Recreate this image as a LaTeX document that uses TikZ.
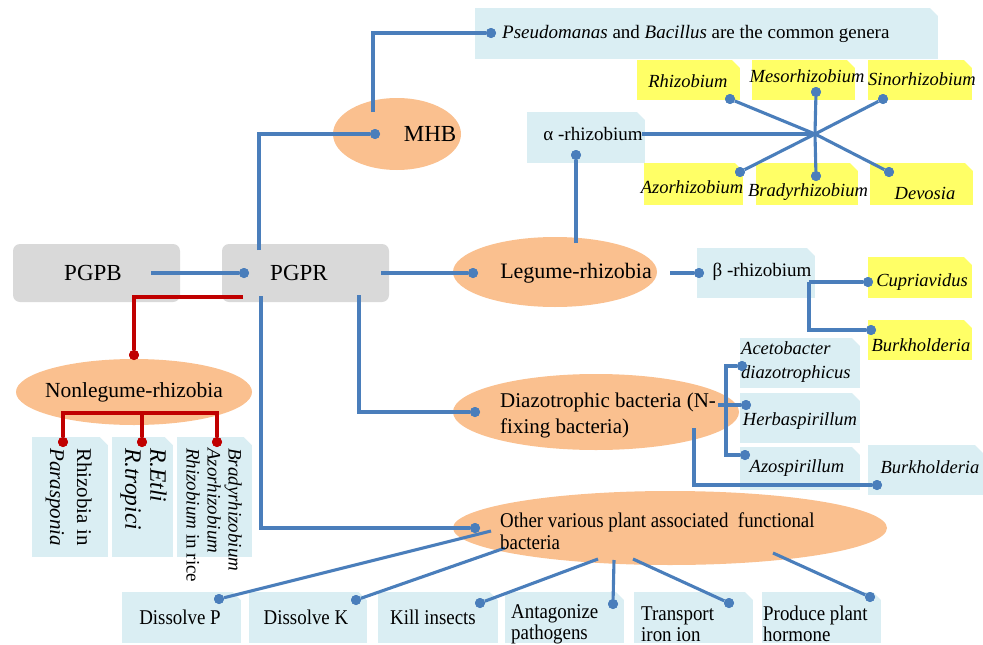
\documentclass[tikz,border=0pt]{standalone}
\usepackage{fontspec}
\setmainfont{Liberation Serif}
\newfontfamily\narrowfont[FakeStretch=0.9]{Liberation Serif}
\usetikzlibrary{shapes.geometric}

\definecolor{boxblue}{HTML}{DAEEF3}
\definecolor{boxgray}{HTML}{D9D9D9}
\definecolor{boxyellow}{HTML}{FFFF66}
\definecolor{ovalorange}{HTML}{FAC08F}
\definecolor{lineblue}{HTML}{4A7EBB}
\definecolor{linered}{HTML}{C00000}

\tikzset{
	lbox/.style={rectangle, fill=boxblue, inner sep=0pt, outer sep=0pt},
	ybox/.style={lbox, fill=boxyellow},
	gbox/.style={rectangle, rounded corners=7pt, fill=boxgray, inner sep=0pt},
	oval/.style={ellipse, fill=ovalorange, inner sep=0pt},
	dot/.style={circle, fill=lineblue, inner sep=0pt, minimum size=10pt},
	rdot/.style={dot, fill=linered},
	link/.style={lineblue, line width=3.1pt},
	rlink/.style={linered, line width=3.1pt},
	txt/.style={inner sep=0pt},
	tbig/.style={txt, font=\fontsize{23}{27}\selectfont},
	toval/.style={txt, font=\fontsize{22}{26}\selectfont},
	tmid/.style={txt, font=\fontsize{19}{23}\selectfont},
	tit/.style={txt, font=\fontsize{18.5}{24}\selectfont\itshape, align=left},
	tnarrow/.style={txt, font=\narrowfont\fontsize{21}{21}\selectfont, align=left}
}

\begin{document}
\begin{tikzpicture}[x=1pt, y=-1pt]
	\useasboundingbox (0,0) rectangle (983,645);

% draw ovals and boxes
	\node[gbox, minimum width=167, minimum height=58] (pgpb) at (96.5,273) {};
	\node[gbox, minimum width=167, minimum height=58] (pgpr) at (305.5,273) {};

	\node[oval, minimum width=128, minimum height=72] (mhb) at (397,134) {};
	\node[oval, minimum width=204, minimum height=70] (legume) at (555,272) {};
	\node[oval, minimum width=236, minimum height=66] (nonleg) at (134,392) {};
	\node[oval, minimum width=286, minimum height=76] (diazo) at (596,412) {};
	\node[oval, minimum width=434, minimum height=74] (other) at (670,528) {};

	\node[lbox, minimum width=463, minimum height=51] (pseudo) at (706.5,33.5) {};
	\node[lbox, minimum width=118, minimum height=51] (alpha) at (586,137.5) {};
	\node[lbox, minimum width=118, minimum height=50] (beta) at (756,273) {};

	\node[ybox, minimum width=103, minimum height=40] (rhiz) at (688.5,80) {};
	\node[ybox, minimum width=103, minimum height=40] (meso) at (803.5,80) {};
	\node[ybox, minimum width=104, minimum height=40] (sino) at (920,80) {};
	\node[ybox, minimum width=99, minimum height=42] (azo) at (693.5,184) {};
	\node[ybox, minimum width=102, minimum height=42] (brady) at (807,184) {};
	\node[ybox, minimum width=103, minimum height=42] (devosia) at (921.5,184) {};
	\node[ybox, minimum width=104, minimum height=41] (cupri) at (920,277.5) {};
	\node[ybox, minimum width=104, minimum height=40] (burky) at (920,340) {};

	\node[lbox, minimum width=120, minimum height=50] (aceto) at (800,363) {};
	\node[lbox, minimum width=120, minimum height=50] (herba) at (800,418) {};
	\node[lbox, minimum width=120, minimum height=43] (azosp) at (800,468.5) {};
	\node[lbox, minimum width=115, minimum height=50] (burkb) at (925.5,470) {};

	\node[lbox, minimum width=76, minimum height=120] (nl1) at (70,497) {};
	\node[lbox, minimum width=61, minimum height=120] (nl2) at (142.5,497) {};
	\node[lbox, minimum width=75, minimum height=120] (nl3) at (214.5,497) {};

	\node[lbox, minimum width=119, minimum height=51] (dissp) at (181.5,617.5) {};
	\node[lbox, minimum width=118, minimum height=51] (dissk) at (308,617.5) {};
	\node[lbox, minimum width=120, minimum height=51] (kill) at (438,617.5) {};
	\node[lbox, minimum width=119, minimum height=51] (antag) at (564.5,617.5) {};
	\node[lbox, minimum width=119, minimum height=51] (transp) at (693.5,617.5) {};
	\node[lbox, minimum width=119, minimum height=51] (produce) at (821.5,617.5) {};

	% snip the top right corners
	\foreach \b in {pseudo,alpha,beta,rhiz,meso,sino,azo,brady,devosia,cupri,burky,aceto,herba,azosp,burkb,nl1,nl2,nl3,dissp,dissk,kill,antag,transp,produce}
		\fill[white] ([xshift=-8pt]\b.north east) -- ([xshift=0.5pt,yshift=0.5pt]\b.north east) -- ([yshift=-8pt]\b.north east) -- cycle;

% dots
	\node[dot] (pgpr-dot) at (244,273) {};
	\node[dot] (mhb-dot) at (375,134) {};
	\node[dot] (pseudo-dot) at (491,33) {};
	\node[dot] (legume-dot) at (473,273) {};
	\node[dot] (alpha-dot) at (576,155) {};
	\node[dot] (beta-dot) at (699,273) {};
	\node[dot] (rhiz-dot) at (730,99) {};
	\node[dot] (meso-dot) at (816,92) {};
	\node[dot] (sino-dot) at (883,99) {};
	\node[dot] (azo-dot) at (740,172) {};
	\node[dot] (brady-dot) at (816,176) {};
	\node[dot] (devosia-dot) at (889,172) {};
	\node[dot] (cupri-dot) at (868,282) {};
	\node[dot] (burky-dot) at (871,330) {};
	\node[dot] (diazo-dot) at (475,412) {};
	\node[dot] (aceto-dot) at (742,366) {};
	\node[dot] (herba-dot) at (746,405) {};
	\node[dot] (azosp-dot) at (745,455) {};
	\node[dot] (burkb-dot) at (877,485) {};
	\node[dot] (other-dot) at (475,528) {};
	\node[dot] (dissp-dot) at (219,599) {};
	\node[dot] (dissk-dot) at (356,600) {};
	\node[dot] (kill-dot) at (480,603) {};
	\node[dot] (antag-dot) at (613,604) {};
	\node[dot] (transp-dot) at (729,603) {};
	\node[dot] (produce-dot) at (870,597) {};
	\node[rdot] (nonleg-dot) at (134,355) {};
	\node[rdot] (nl1-dot) at (63,442) {};
	\node[rdot] (nl2-dot) at (142,442) {};
	\node[rdot] (nl3-dot) at (217,442) {};

% free ends of the connectors
	\coordinate (pgpb-end) at (151,273);
	\coordinate (pgpr-top) at (259,250);
	\coordinate (pgpr-right) at (381,273);
	\coordinate (pgpr-bl) at (261,296);
	\coordinate (pgpr-br) at (359,295);
	\coordinate (pgpr-red) at (243,297);
	\coordinate (mhb-top) at (373,112);
	\coordinate (legume-top) at (576,243);
	\coordinate (legume-right) at (670,273);
	\coordinate (alpha-end) at (642,134);
	\coordinate (star) at (815,134);
	\coordinate (beta-end) at (809,282);
	\coordinate (nl-bar) at (142,413);
	\coordinate (br-bot) at (726,455);
	\coordinate (br-mid) at (718,405);
	\coordinate (diazo-low) at (694,428);
	\coordinate (o-dissp) at (491,531);
	\coordinate (o-dissk) at (505,548);
	\coordinate (o-kill) at (598,559);
	\coordinate (o-antag) at (614,560);
	\coordinate (o-transp) at (633,559);
	\coordinate (o-produce) at (773,553);

% connectors
	\draw[link] (pgpb-end) -- (pgpr-dot);
	\draw[link] (pgpr-top) |- (mhb-dot);
	\draw[link] (mhb-top) |- (pseudo-dot);
	\draw[link] (pgpr-right) -- (legume-dot);
	\draw[link] (pgpr-br) |- (diazo-dot);
	\draw[link] (pgpr-bl) |- (other-dot);
	\draw[rlink] (pgpr-red) -| (nonleg-dot);
	\draw[rlink] (nl1-dot) |- (nl-bar) -| (nl3-dot);
	\draw[rlink] (nl-bar) -- (nl2-dot);

	\draw[link] (legume-top) -- (alpha-dot);
	\draw[link] (alpha-end) -- (star);
	\foreach \n in {rhiz,meso,sino,azo,brady,devosia}
		\draw[link] (star) -- (\n-dot);
	\draw[link] (legume-right) -- (beta-dot);
	\draw[link] (beta-end) -- (cupri-dot);
	\draw[link] (beta-end) |- (burky-dot);

	\draw[link] (aceto-dot) -| (br-bot) -- (azosp-dot);
	\draw[link] (br-mid) -- (herba-dot);
	\draw[link] (diazo-low) |- (burkb-dot);

	\foreach \n in {dissp,dissk,kill,antag,transp,produce}
		\draw[link] (o-\n) -- (\n-dot);

	% redraw dots on top
	\foreach \n in {pgpr,mhb,pseudo,legume,alpha,beta,rhiz,meso,sino,azo,brady,devosia,cupri,burky,diazo,aceto,herba,azosp,burkb,other,dissp,dissk,kill,antag,transp,produce}
		\fill[lineblue] (\n-dot) circle (5pt);
	\foreach \n in {nonleg,nl1,nl2,nl3}
		\fill[linered] (\n-dot) circle (5pt);

% texts
	\node[tbig] (pgpb-t) at (93,273) {PGPB};
	\node[tbig] (pgpr-t) at (299,273) {PGPR};
	\node[tbig] (mhb-t) at (430,134) {MHB};
	\node[toval] (legume-t) at (576,273) {Legume-rhizobia};
	\node[txt, font=\fontsize{21.5}{26}\selectfont] (nonleg-t) at (134,392) {Nonlegume-rhizobia};
	\node[txt, font=\fontsize{21}{26}\selectfont, align=left, anchor=west] (diazo-t) at (500,415)
		{Diazotrophic bacteria (N-\\fixing bacteria)};
	\node[tnarrow, anchor=west] (other-t) at (500,531)
		{Other various plant associated\ \ functional\\[1pt]bacteria};

	\node[tmid, anchor=west] (pseudo-t) at (502,34)
		{\textit{Pseudomanas} and \textit{Bacillus} are the common genera};
	\node[tmid] (alpha-t) at (593,134) {α -rhizobium};
	\node[tmid] (beta-t) at (762,272) {β -rhizobium};

	\node[tit] (rhiz-t) at (688,81) {Rhizobium};
	\node[tit] (meso-t) at (807,76) {Mesorhizobium};
	\node[tit] (sino-t) at (922,79) {Sinorhizobium};
	\node[tit] (azo-t) at (692,187) {Azorhizobium};
	\node[tit] (brady-t) at (808,192) {Bradyrhizobium};
	\node[tit] (devosia-t) at (925,193) {Devosia};
	\node[tit] (cupri-t) at (922,282) {Cupriavidus};
	\node[tit] (burky-t) at (921,345) {Burkholderia};

	\node[tit, anchor=west] (aceto-t) at (741,362) {Acetobacter\\diazotrophicus};
	\node[tit] (herba-t) at (800,421) {Herbaspirillum};
	\node[tit] (azosp-t) at (797,468) {Azospirillum};
	\node[tit] (burkb-t) at (930,467) {Burkholderia};

	\node[txt, rotate=-90, anchor=north west, align=left, font=\fontsize{21}{27}\selectfont]
		(nl1-t) at (92,448) {Rhizobia in\\\textit{Parasponia}};
	\node[txt, rotate=-90, anchor=north west, align=left, font=\fontsize{23.5}{25}\selectfont\itshape]
		(nl2-t) at (167,448) {R.Etli\\R.tropici};
	\node[txt, rotate=-90, anchor=north west, align=left, font=\fontsize{19}{21}\selectfont]
		(nl3-t) at (242,448) {\textit{Bradyrhizobium}\\\textit{Azorhizobium}\\\textit{Rhizobium} in rice};

	\node[tnarrow] (dissp-t) at (180,617) {Dissolve P};
	\node[tnarrow] (dissk-t) at (306,617) {Dissolve K};
	\node[tnarrow] (kill-t) at (433,617) {Kill insects};
	\node[tnarrow, anchor=west] (antag-t) at (511,624) {Antagonize\\pathogens};
	\node[tnarrow, anchor=west] (transp-t) at (641,624) {Transport\\iron ion};
	\node[tnarrow, anchor=west] (produce-t) at (763,624) {Produce plant\\hormone};

\end{tikzpicture}
\end{document}
